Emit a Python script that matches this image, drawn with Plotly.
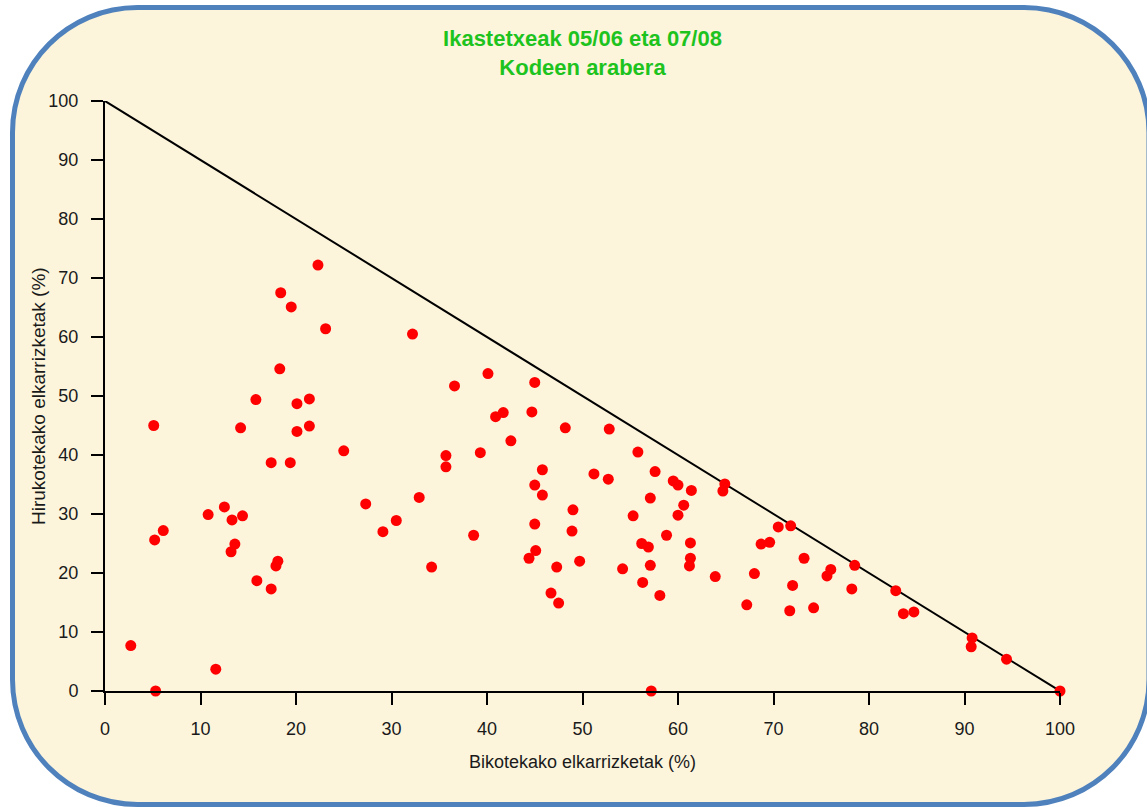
import plotly.graph_objects as go

# ---- data ----
bikote = [2.7, 5.1, 5.2, 6.1, 5.3, 11.6, 10.8, 12.5, 13.3, 14.4, 13.6, 13.2, 14.2, 15.8, 15.9,
          17.4, 17.4, 17.9, 18.1, 18.3, 18.4, 19.5, 19.4, 20.1, 20.1, 21.4, 21.4, 22.3, 23.1,
          25.0, 27.3, 29.1, 30.5, 32.2, 32.9, 34.2, 35.7, 35.7, 36.6, 38.6, 39.3, 40.1, 40.9,
          41.7, 42.5, 44.7, 45.0, 44.4, 45.1, 45.0, 45.0, 45.8, 45.8, 46.7, 47.5, 47.3, 48.2,
          49.0, 48.9, 49.7, 51.2, 52.7, 52.8, 54.2, 55.3, 55.8, 56.2, 56.9, 56.3, 57.1, 57.1,
          57.6, 57.2, 58.1, 58.8, 59.5, 60.0, 61.4, 60.6, 60.0, 61.3, 61.3, 61.2, 63.9, 64.9,
          64.7, 67.2, 68.0, 68.7, 69.6, 70.5, 71.8, 73.2, 72.0, 71.7, 74.2, 75.6, 76.0, 78.2,
          78.5, 82.8, 83.6, 84.7, 90.8, 90.7, 94.4, 100.0]
hirukote = [7.7, 45.0, 25.6, 27.2, 0.0, 3.7, 29.9, 31.2, 29.0, 29.7, 24.9, 23.6, 44.6, 49.4, 18.7,
            17.3, 38.7, 21.2, 22.0, 54.6, 67.5, 65.1, 38.7, 44.0, 48.7, 49.5, 44.9, 72.2, 61.4,
            40.7, 31.7, 27.0, 28.9, 60.5, 32.8, 21.0, 39.9, 38.0, 51.7, 26.4, 40.4, 53.8, 46.5,
            47.2, 42.4, 47.3, 52.3, 22.5, 23.8, 28.3, 34.9, 37.5, 33.2, 16.6, 14.9, 21.0, 44.6,
            30.7, 27.1, 22.0, 36.8, 35.9, 44.4, 20.7, 29.7, 40.5, 25.0, 24.4, 18.4, 21.3, 32.7,
            37.2, 0.0, 16.2, 26.4, 35.6, 34.9, 34.0, 31.5, 29.8, 25.1, 22.5, 21.2, 19.4, 35.1,
            33.9, 14.6, 19.9, 24.9, 25.2, 27.8, 28.0, 22.5, 17.9, 13.6, 14.1, 19.5, 20.6, 17.3,
            21.3, 17.0, 13.1, 13.4, 9.0, 7.5, 5.4, 0.0]
limit_x = [0, 100]
limit_y = [100, 0]
tick_vals = [0, 10, 20, 30, 40, 50, 60, 70, 80, 90, 100]

title_text = "<b>Ikastetxeak 05/06 eta 07/08<br>Kodeen arabera</b>"
x_title = "Bikotekako elkarrizketak (%)"
y_title = "Hirukotekako elkarrizketak (%)"

# ---- layout geometry (pixels) ----
W, H = 1147, 807
L, R, T, B = 105, 1060, 101, 691  # plot area edges


def px2paper(px, py):
    return (px - L) / (R - L), (B - py) / (B - T)


def rounded_rect_path(x0, y0, x1, y1, r):
    k = 0.5523 * r
    def P(px, py):
        a, b = px2paper(px, py)
        return f"{a:.5f},{b:.5f}"
    p = "M " + P(x0 + r, y0)
    p += " L " + P(x1 - r, y0)
    p += " C " + P(x1 - r + k, y0) + " " + P(x1, y0 + r - k) + " " + P(x1, y0 + r)
    p += " L " + P(x1, y1 - r)
    p += " C " + P(x1, y1 - r + k) + " " + P(x1 - r + k, y1) + " " + P(x1 - r, y1)
    p += " L " + P(x0 + r, y1)
    p += " C " + P(x0 + r - k, y1) + " " + P(x0, y1 - r + k) + " " + P(x0, y1 - r)
    p += " L " + P(x0, y0 + r)
    p += " C " + P(x0, y0 + r - k) + " " + P(x0 + r - k, y0) + " " + P(x0 + r, y0)
    p += " Z"
    return p


fig = go.Figure()
fig.add_trace(go.Scatter(x=limit_x, y=limit_y, mode="lines",
                         line=dict(color="black", width=2), hoverinfo="skip",
                         showlegend=False, cliponaxis=False))
fig.add_trace(go.Scatter(x=bikote, y=hirukote, mode="markers",
                         marker=dict(color="#FF0000", size=11, line=dict(width=0)),
                         showlegend=False, cliponaxis=False))

fig.add_shape(type="path", xref="paper", yref="paper", layer="below",
              path=rounded_rect_path(12.5, 7.5, 1149, 804.5, 125),
              fillcolor="#FCF5DC", line=dict(color="#4F81BD", width=5))

axis_common = dict(range=[0, 100], tickmode="array", tickvals=tick_vals,
                   showline=True, linecolor="black", linewidth=2,
                   ticks="outside", ticklen=12, tickwidth=2, tickcolor="black",
                   showgrid=False, zeroline=False,
                   tickfont=dict(family="Liberation Sans, Arial", size=18, color="#1A1A1A"))

fig.update_xaxes(**axis_common, ticklabelstandoff=8)
fig.update_yaxes(**axis_common, ticklabelstandoff=9)

xa, ya = px2paper(582.5, 762)
xb, yb = px2paper(38, 396)
fig.add_annotation(text=x_title, xref="paper", yref="paper", x=xa, y=ya,
                   showarrow=False, xanchor="center", yanchor="middle",
                   font=dict(family="Liberation Sans, Arial", size=18, color="#1A1A1A"))
fig.add_annotation(text=y_title, xref="paper", yref="paper", x=xb, y=yb, textangle=-90,
                   showarrow=False, xanchor="center", yanchor="middle",
                   font=dict(family="Liberation Sans, Arial", size=19, color="#1A1A1A"))

fig.update_layout(
    width=W, height=H,
    margin=dict(l=L, r=W - R, t=T, b=H - B, pad=0),
    paper_bgcolor="white", plot_bgcolor="rgba(0,0,0,0)",
    title=dict(text=title_text, x=0.5, xref="paper", y=1 - 46 / H, yref="container",
               xanchor="center", yanchor="middle",
               font=dict(family="Liberation Sans, Arial", size=22, color="#1EC31E")),
    hovermode=False,
)

fig.write_html("out.html", config={"displayModeBar": False})
